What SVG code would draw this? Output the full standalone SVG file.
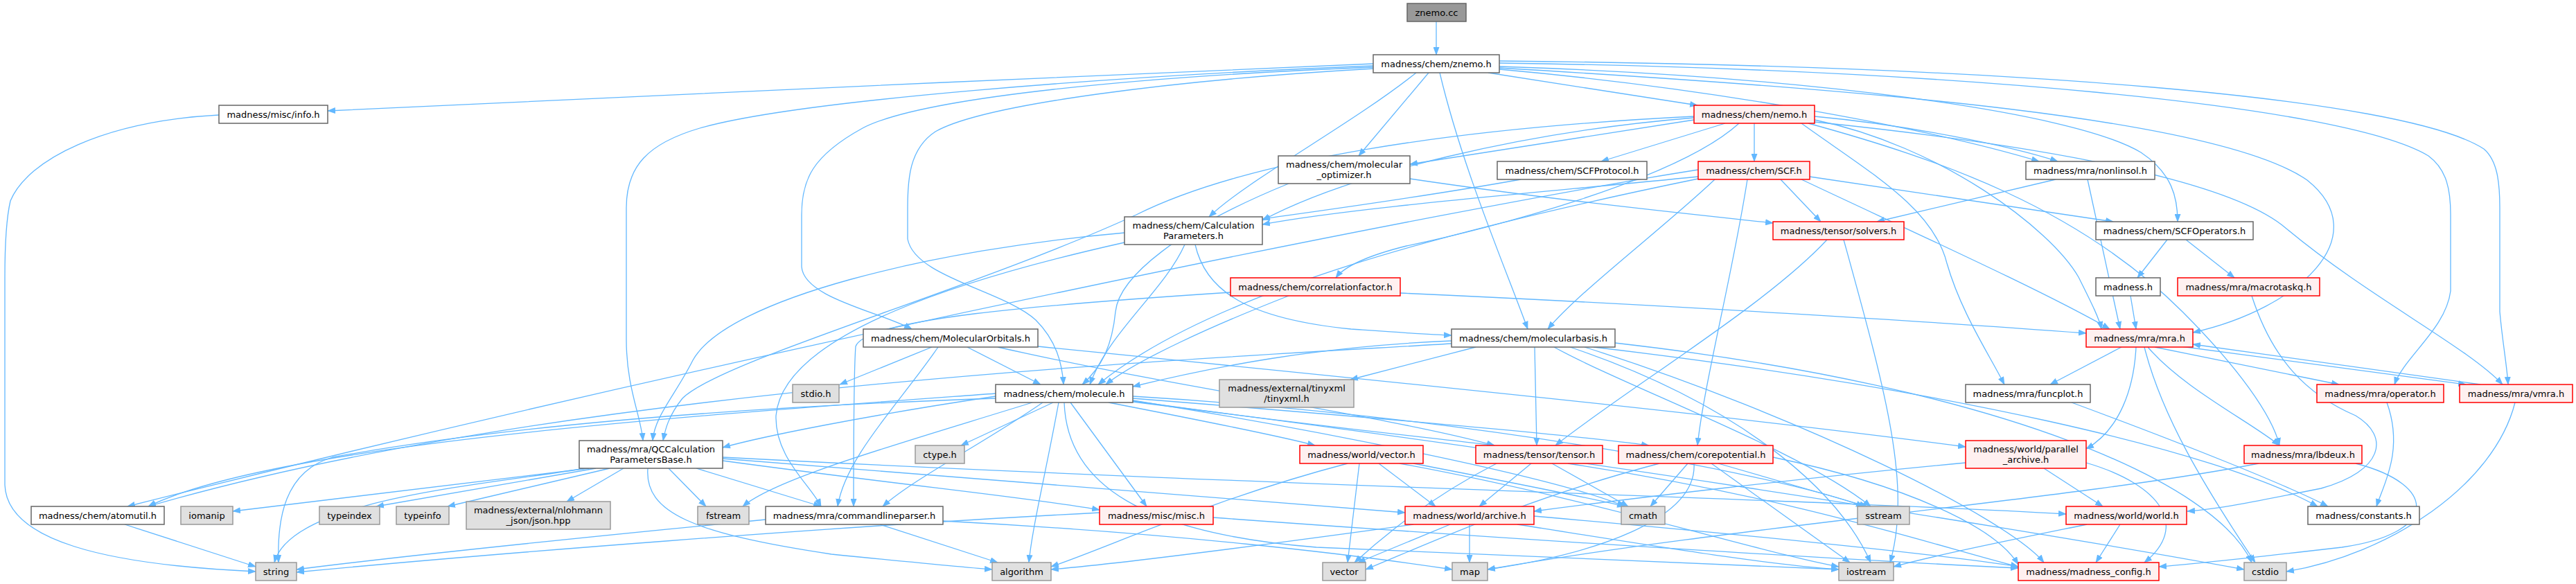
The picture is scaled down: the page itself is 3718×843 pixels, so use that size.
<svg xmlns="http://www.w3.org/2000/svg" width="3718" height="843" viewBox="0 0 3718 843">
<style>
.e{fill:none;stroke:#63b8ff;stroke-width:1.3;marker-end:url(#ah)}
.n rect{stroke-width:1.5}
.w rect{fill:#ffffff;stroke:#666666}
.r rect{fill:#fff0f0;stroke:#ff0000}
.g rect{fill:#e0e0e0;stroke:#999999}
.d rect{fill:#999999;stroke:#666666}
text{font-family:"DejaVu Sans","Liberation Sans",sans-serif;font-size:13px;text-anchor:middle;fill:#000000}
</style>
<defs>
<marker id="ah" markerUnits="userSpaceOnUse" markerWidth="12" markerHeight="9" viewBox="0 0 12 9" refX="11" refY="4.5" orient="auto"><path d="M0,0L12,4.5L0,9z" fill="#63b8ff"/></marker>
</defs>
<rect x="0" y="0" width="3718" height="843" fill="#ffffff"/>
<g id="connectors">
<path class="e" d="M2073,31 L2073,79"/>
<path class="e" d="M1982,92 C1500,112 900,140 473,160"/>
<path class="e" d="M1982,95 C1600,110 1150,145 1010,185 C935,207 904,240 904,300 L904,490 C904,560 925,600 928,636"/>
<path class="e" d="M1982,97 C1650,110 1330,140 1245,185 C1172,225 1157,260 1157,310 L1157,385 C1160,430 1270,450 1316,475"/>
<path class="e" d="M1983,99 C1700,115 1420,150 1350,190 C1312,215 1310,260 1310,300 L1310,345 C1320,400 1450,420 1495,462 C1525,492 1533,525 1535,555"/>
<path class="e" d="M2044,105 C1950,180 1800,260 1745,313"/>
<path class="e" d="M2062,105 L1961,225"/>
<path class="e" d="M2078,105 C2110,240 2170,380 2205,475"/>
<path class="e" d="M2148,105 L2450,152"/>
<path class="e" d="M2164,100 C2500,130 2800,190 2943,233"/>
<path class="e" d="M2164,96 C2600,110 2990,160 3090,220 C3135,250 3143,285 3143,320"/>
<path class="e" d="M2164,98 C2700,130 3200,170 3330,260 C3430,340 3320,445 3165,480"/>
<path class="e" d="M2164,91 C2800,100 3380,150 3505,225 C3532,245 3537,275 3537,310 L3537,420 C3530,475 3470,515 3456,555"/>
<path class="e" d="M2164,88 C2900,95 3470,140 3585,215 C3605,232 3608,265 3608,300 L3608,450 C3612,495 3618,525 3620,555"/>
<path class="e" d="M2445,173 L2035,237"/>
<path class="e" d="M2490,178 L2311,233"/>
<path class="e" d="M2532,178 L2532,233"/>
<path class="e" d="M2510,178 C2420,260 2150,330 2030,355 C1970,370 1940,385 1928,401"/>
<path class="e" d="M2445,168 C2100,185 1800,230 1640,310 C1400,420 1040,520 985,575 C965,600 960,620 957,636"/>
<path class="e" d="M2445,170 C2200,190 1950,250 1822,318"/>
<path class="e" d="M2619,168 C2750,180 2900,210 2970,233"/>
<path class="e" d="M2619,173 C2800,210 2960,330 3000,400 C3020,440 3030,460 3033,475"/>
<path class="e" d="M2619,176 C2950,210 3220,260 3300,330 C3420,430 3560,500 3612,555"/>
<path class="e" d="M2600,178 C2700,250 2790,300 2810,380 C2830,450 2870,510 2893,555"/>
<path class="e" d="M2610,178 C2800,230 3000,300 3150,450 C3230,530 3280,600 3290,643"/>
<path class="e" d="M2451,255 C2200,280 1950,300 1822,324"/>
<path class="e" d="M2195,259 C2050,285 1900,305 1822,316"/>
<path class="e" d="M2475,259 C2400,330 2280,420 2234,475"/>
<path class="e" d="M2522,259 C2500,400 2460,550 2450,643"/>
<path class="e" d="M2570,259 L2628,320"/>
<path class="e" d="M2612,255 L3050,320"/>
<path class="e" d="M2600,259 C2750,330 2950,420 3045,475"/>
<path class="e" d="M2451,258 C2100,330 1750,420 1585,555"/>
<path class="e" d="M2451,245 C2100,300 1100,500 184,731"/>
<path class="e" d="M1345,501 L1212,555"/>
<path class="e" d="M1354,501 C1300,580 1220,660 1209,731"/>
<path class="e" d="M1396,501 L1502,555"/>
<path class="e" d="M1440,501 C1700,560 2000,600 2157,643"/>
<path class="e" d="M1498,500 C2000,550 2500,600 2837,645"/>
<path class="e" d="M1710,353 C1680,420 1600,480 1573,555"/>
<path class="e" d="M1623,336 C1350,360 1050,430 1000,520 C975,570 945,600 942,636"/>
<path class="e" d="M1725,353 C1740,420 1800,460 1950,475 C2020,480 2060,483 2095,484"/>
<path class="e" d="M1623,350 C1400,400 1130,480 1120,600 C1118,660 1170,700 1185,731"/>
<path class="e" d="M2035,258 C2250,290 2450,310 2559,322"/>
<path class="e" d="M1860,265 C1700,330 1615,400 1610,450 C1605,500 1590,530 1562,555"/>
<path class="e" d="M2021,423 C2400,440 2800,465 3011,481"/>
<path class="e" d="M1860,427 C1750,470 1640,520 1596,555"/>
<path class="e" d="M1776,422 C1500,440 1250,460 1235,500 C1232,540 1232,650 1232,731"/>
<path class="e" d="M2637,346 C2550,440 2350,560 2245,643"/>
<path class="e" d="M2661,346 C2720,560 2760,700 2728,812"/>
<path class="e" d="M2967,259 L2709,320"/>
<path class="e" d="M3013,259 L3060,475"/>
<path class="e" d="M3128,346 L3085,401"/>
<path class="e" d="M3155,346 L3225,401"/>
<path class="e" d="M3075,427 L3083,475"/>
<path class="e" d="M3250,427 C3280,520 3330,570 3400,600 C3450,630 3440,680 3350,705 C3250,725 3200,735 3157,738"/>
<path class="e" d="M3062,501 L2959,555"/>
<path class="e" d="M3110,501 L3376,555"/>
<path class="e" d="M3140,499 L3559,555"/>
<path class="e" d="M3580,555 L3165,497"/>
<path class="e" d="M3100,501 C3150,560 3250,610 3290,643"/>
<path class="e" d="M3083,501 C3080,560 3060,620 3011,648"/>
<path class="e" d="M3095,501 C3120,600 3180,700 3255,812"/>
<path class="e" d="M2990,581 C3150,640 3300,700 3360,731"/>
<path class="e" d="M3445,581 C3470,650 3440,700 3430,731"/>
<path class="e" d="M3630,581 C3600,700 3450,800 3300,825"/>
<path class="e" d="M3400,669 C3520,700 3520,770 3380,790 C3250,805 3160,815 3116,818"/>
<path class="e" d="M3260,669 C3000,720 2500,760 2147,822"/>
<path class="e" d="M2950,676 L3035,731"/>
<path class="e" d="M3011,668 C3120,700 3160,760 3095,812"/>
<path class="e" d="M2837,668 C2600,690 2350,720 2214,738"/>
<path class="e" d="M3060,757 L3025,812"/>
<path class="e" d="M3012,757 C2900,780 2800,800 2733,818"/>
<path class="e" d="M2095,492 C1900,500 1750,530 1635,558"/>
<path class="e" d="M2130,501 L1949,548"/>
<path class="e" d="M2095,496 C1700,520 800,560 214,731"/>
<path class="e" d="M2215,501 L2218,643"/>
<path class="e" d="M2243,501 C2350,560 2600,650 2700,731"/>
<path class="e" d="M2266,501 C2500,580 2650,700 2700,812"/>
<path class="e" d="M2287,501 C2600,600 2900,750 2950,812"/>
<path class="e" d="M2300,501 C2800,560 3200,650 3345,731"/>
<path class="e" d="M2331,495 C2900,560 3200,700 3250,812"/>
<path class="e" d="M1437,572 C1250,600 1100,630 1043,646"/>
<path class="e" d="M1437,568 C1000,600 400,640 214,731"/>
<path class="e" d="M1490,581 C1300,640 1120,690 1072,731"/>
<path class="e" d="M1505,581 C1420,640 1320,690 1274,731"/>
<path class="e" d="M1520,581 L1387,643"/>
<path class="e" d="M1528,581 C1510,680 1490,760 1485,812"/>
<path class="e" d="M1545,581 L1655,731"/>
<path class="e" d="M1600,581 C1750,610 1850,630 1898,643"/>
<path class="e" d="M1630,578 C1850,610 2050,630 2157,643"/>
<path class="e" d="M1635,575 C1950,600 2250,625 2380,643"/>
<path class="e" d="M1536,581 C1540,700 1650,770 1900,790 C2200,805 2500,815 2654,822"/>
<path class="e" d="M1635,572 C2100,600 2550,680 2690,731"/>
<path class="e" d="M1437,575 C1000,590 700,620 480,660 C410,680 400,750 402,812"/>
<path class="e" d="M1635,580 C2200,650 2900,760 3239,822"/>
<path class="e" d="M1635,578 C1900,620 2250,690 2345,731"/>
<path class="e" d="M850,676 L336,738"/>
<path class="e" d="M860,676 L543,731"/>
<path class="e" d="M880,676 L646,731"/>
<path class="e" d="M900,676 L818,724"/>
<path class="e" d="M965,676 L1019,731"/>
<path class="e" d="M1005,676 L1185,731"/>
<path class="e" d="M1043,665 C1300,700 1500,720 1587,736"/>
<path class="e" d="M845,676 C700,700 420,720 396,812"/>
<path class="e" d="M1043,660 C1800,700 2600,720 2982,742"/>
<path class="e" d="M1043,662 C1500,700 1800,720 2028,740"/>
<path class="e" d="M935,676 C930,740 1000,770 1200,800 C1350,815 1400,820 1432,822"/>
<path class="e" d="M1270,757 L1440,812"/>
<path class="e" d="M1105,750 C900,770 600,800 428,822"/>
<path class="e" d="M1361,752 C1700,770 1950,800 2096,822"/>
<path class="e" d="M1587,740 C1200,760 700,800 428,826"/>
<path class="e" d="M1751,747 C2200,780 2700,810 2913,820"/>
<path class="e" d="M180,757 L369,818"/>
<path class="e" d="M316,166 C150,175 40,230 15,290 C8,320 7,360 7,400 L7,700 C10,780 150,815 369,825"/>
<path class="e" d="M1990,669 L2072,731"/>
<path class="e" d="M1962,669 L1945,812"/>
<path class="e" d="M1945,669 C1750,720 1600,790 1517,818"/>
<path class="e" d="M2020,669 C2300,720 2550,800 2654,818"/>
<path class="e" d="M2040,669 C2200,700 2300,720 2345,731"/>
<path class="e" d="M2210,669 L2135,731"/>
<path class="e" d="M2160,669 C2060,720 1990,780 1955,812"/>
<path class="e" d="M2240,669 L2350,731"/>
<path class="e" d="M2263,669 C2600,720 2800,790 2913,818"/>
<path class="e" d="M2436,669 L2382,731"/>
<path class="e" d="M2480,669 L2695,731"/>
<path class="e" d="M2470,669 L2670,812"/>
<path class="e" d="M2445,669 C2450,750 2300,800 2147,822"/>
<path class="e" d="M2395,669 C2200,720 2050,790 1971,822"/>
<path class="e" d="M2559,660 C2750,700 2880,760 2913,815"/>
<path class="e" d="M2093,757 L1960,812"/>
<path class="e" d="M2121,757 L2121,812"/>
<path class="e" d="M2214,745 C2500,770 2800,800 2913,818"/>
<path class="e" d="M2190,757 C2400,790 2550,815 2654,822"/>
<path class="e" d="M2040,757 C1800,790 1600,815 1517,822"/>
</g>
<g id="znemo_cc" class="n d"><rect x="2031" y="5" width="85" height="26"/><text x="2073.5" y="22.5">znemo.cc</text></g>
<g id="znemo_h" class="n w"><rect x="1982" y="79" width="182" height="26"/><text x="2073" y="96.5">madness/chem/znemo.h</text></g>
<g id="info_h" class="n w"><rect x="316" y="152" width="157" height="26"/><text x="394.5" y="169.5">madness/misc/info.h</text></g>
<g id="nemo_h" class="n r"><rect x="2445" y="152" width="174" height="26"/><text x="2532" y="169.5">madness/chem/nemo.h</text></g>
<g id="molecular_optimizer_h" class="n w"><rect x="1845" y="225" width="190" height="40"/><text x="1940" y="241.5">madness/chem/molecular</text><text x="1940" y="256.5">_optimizer.h</text></g>
<g id="SCFProtocol_h" class="n w"><rect x="2161" y="233" width="216" height="26"/><text x="2269" y="250.5">madness/chem/SCFProtocol.h</text></g>
<g id="SCF_h" class="n r"><rect x="2451" y="233" width="161" height="26"/><text x="2531.5" y="250.5">madness/chem/SCF.h</text></g>
<g id="nonlinsol_h" class="n w"><rect x="2924" y="233" width="186" height="26"/><text x="3017" y="250.5">madness/mra/nonlinsol.h</text></g>
<g id="CalculationParameters_h" class="n w"><rect x="1623" y="313" width="199" height="40"/><text x="1722.5" y="329.5">madness/chem/Calculation</text><text x="1722.5" y="344.5">Parameters.h</text></g>
<g id="solvers_h" class="n r"><rect x="2559" y="320" width="189" height="26"/><text x="2653.5" y="337.5">madness/tensor/solvers.h</text></g>
<g id="SCFOperators_h" class="n w"><rect x="3025" y="320" width="227" height="26"/><text x="3138.5" y="337.5">madness/chem/SCFOperators.h</text></g>
<g id="correlationfactor_h" class="n r"><rect x="1776" y="401" width="245" height="26"/><text x="1898.5" y="418.5">madness/chem/correlationfactor.h</text></g>
<g id="madness_h" class="n w"><rect x="3025" y="401" width="93" height="26"/><text x="3071.5" y="418.5">madness.h</text></g>
<g id="macrotaskq_h" class="n r"><rect x="3143" y="401" width="205" height="26"/><text x="3245.5" y="418.5">madness/mra/macrotaskq.h</text></g>
<g id="MolecularOrbitals_h" class="n w"><rect x="1246" y="475" width="252" height="26"/><text x="1372" y="492.5">madness/chem/MolecularOrbitals.h</text></g>
<g id="molecularbasis_h" class="n w"><rect x="2095" y="475" width="236" height="26"/><text x="2213" y="492.5">madness/chem/molecularbasis.h</text></g>
<g id="mra_h" class="n r"><rect x="3011" y="475" width="154" height="26"/><text x="3088" y="492.5">madness/mra/mra.h</text></g>
<g id="stdio_h" class="n g"><rect x="1144" y="555" width="67" height="26"/><text x="1177.5" y="572.5">stdio.h</text></g>
<g id="molecule_h" class="n w"><rect x="1437" y="555" width="198" height="26"/><text x="1536" y="572.5">madness/chem/molecule.h</text></g>
<g id="tinyxml_h" class="n g"><rect x="1760" y="548" width="194" height="40"/><text x="1857" y="564.5">madness/external/tinyxml</text><text x="1857" y="579.5">/tinyxml.h</text></g>
<g id="funcplot_h" class="n w"><rect x="2837" y="555" width="180" height="26"/><text x="2927" y="572.5">madness/mra/funcplot.h</text></g>
<g id="operator_h" class="n r"><rect x="3344" y="555" width="183" height="26"/><text x="3435.5" y="572.5">madness/mra/operator.h</text></g>
<g id="vmra_h" class="n r"><rect x="3550" y="555" width="163" height="26"/><text x="3631.5" y="572.5">madness/mra/vmra.h</text></g>
<g id="QCCalculationParametersBase_h" class="n w"><rect x="836" y="636" width="207" height="40"/><text x="939.5" y="652.5">madness/mra/QCCalculation</text><text x="939.5" y="667.5">ParametersBase.h</text></g>
<g id="ctype_h" class="n g"><rect x="1321" y="643" width="71" height="26"/><text x="1356.5" y="660.5">ctype.h</text></g>
<g id="world_vector_h" class="n r"><rect x="1876" y="643" width="178" height="26"/><text x="1965" y="660.5">madness/world/vector.h</text></g>
<g id="tensor_h" class="n r"><rect x="2130" y="643" width="183" height="26"/><text x="2221.5" y="660.5">madness/tensor/tensor.h</text></g>
<g id="corepotential_h" class="n r"><rect x="2336" y="643" width="223" height="26"/><text x="2447.5" y="660.5">madness/chem/corepotential.h</text></g>
<g id="parallel_archive_h" class="n r"><rect x="2837" y="636" width="174" height="40"/><text x="2924" y="652.5">madness/world/parallel</text><text x="2924" y="667.5">_archive.h</text></g>
<g id="lbdeux_h" class="n r"><rect x="3239" y="643" width="170" height="26"/><text x="3324" y="660.5">madness/mra/lbdeux.h</text></g>
<g id="atomutil_h" class="n w"><rect x="45" y="731" width="192" height="26"/><text x="141" y="748.5">madness/chem/atomutil.h</text></g>
<g id="iomanip" class="n g"><rect x="261" y="731" width="75" height="26"/><text x="298.5" y="748.5">iomanip</text></g>
<g id="typeindex" class="n g"><rect x="461" y="731" width="87" height="26"/><text x="504.5" y="748.5">typeindex</text></g>
<g id="typeinfo" class="n g"><rect x="572" y="731" width="76" height="26"/><text x="610" y="748.5">typeinfo</text></g>
<g id="json_hpp" class="n g"><rect x="673" y="724" width="208" height="40"/><text x="777" y="740.5">madness/external/nlohmann</text><text x="777" y="755.5">_json/json.hpp</text></g>
<g id="fstream" class="n g"><rect x="1007" y="731" width="74" height="26"/><text x="1044" y="748.5">fstream</text></g>
<g id="commandlineparser_h" class="n w"><rect x="1105" y="731" width="256" height="26"/><text x="1233" y="748.5">madness/mra/commandlineparser.h</text></g>
<g id="misc_h" class="n r"><rect x="1587" y="731" width="164" height="26"/><text x="1669" y="748.5">madness/misc/misc.h</text></g>
<g id="archive_h" class="n r"><rect x="2028" y="731" width="186" height="26"/><text x="2121" y="748.5">madness/world/archive.h</text></g>
<g id="cmath" class="n g"><rect x="2340" y="731" width="63" height="26"/><text x="2371.5" y="748.5">cmath</text></g>
<g id="sstream" class="n g"><rect x="2681" y="731" width="75" height="26"/><text x="2718.5" y="748.5">sstream</text></g>
<g id="world_h" class="n r"><rect x="2982" y="731" width="174" height="26"/><text x="3069" y="748.5">madness/world/world.h</text></g>
<g id="constants_h" class="n w"><rect x="3331" y="731" width="161" height="26"/><text x="3411.5" y="748.5">madness/constants.h</text></g>
<g id="string" class="n g"><rect x="369" y="812" width="59" height="26"/><text x="398.5" y="829.5">string</text></g>
<g id="algorithm" class="n g"><rect x="1432" y="812" width="85" height="26"/><text x="1474.5" y="829.5">algorithm</text></g>
<g id="vector" class="n g"><rect x="1909" y="812" width="62" height="26"/><text x="1940" y="829.5">vector</text></g>
<g id="map" class="n g"><rect x="2096" y="812" width="51" height="26"/><text x="2121.5" y="829.5">map</text></g>
<g id="iostream" class="n g"><rect x="2654" y="812" width="79" height="26"/><text x="2693.5" y="829.5">iostream</text></g>
<g id="madness_config_h" class="n r"><rect x="2913" y="812" width="203" height="26"/><text x="3014.5" y="829.5">madness/madness_config.h</text></g>
<g id="cstdio" class="n g"><rect x="3239" y="812" width="61" height="26"/><text x="3269.5" y="829.5">cstdio</text></g>
</svg>
